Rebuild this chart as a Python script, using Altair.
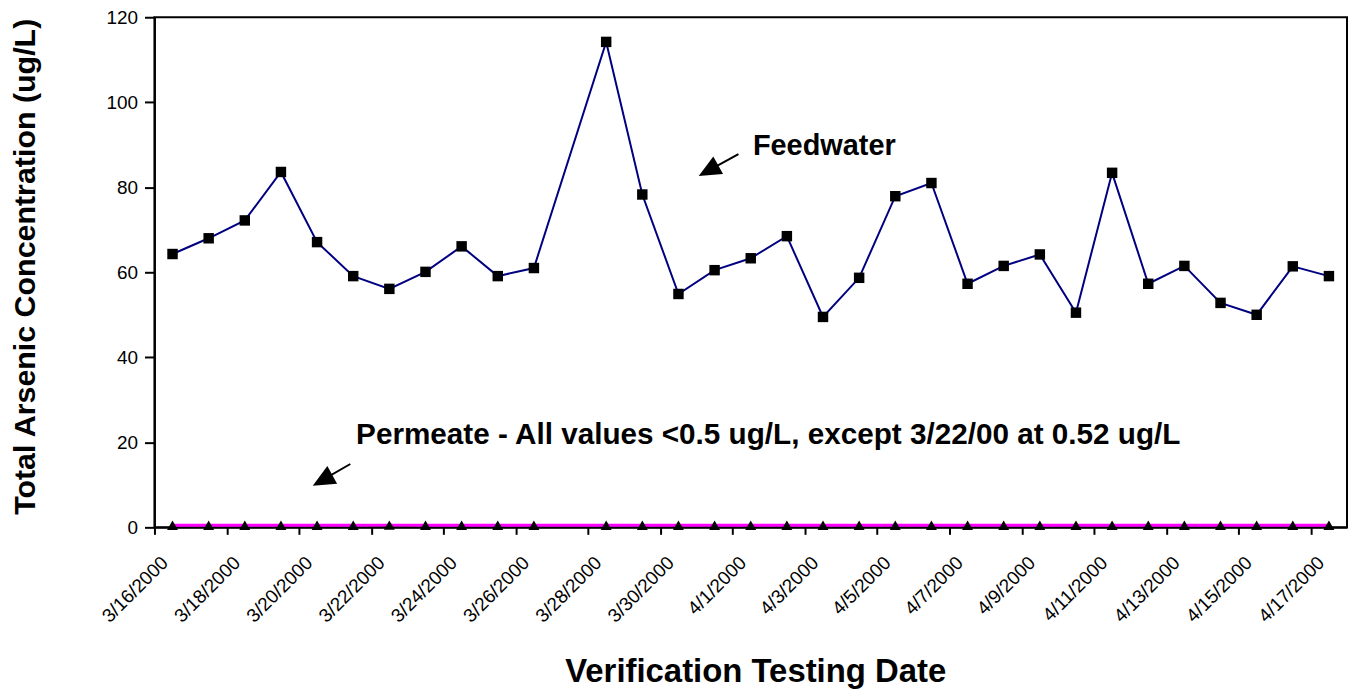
import altair as alt
import pandas as pd
from datetime import datetime, timedelta

# ---------------- data ----------------
dates = [
    "2000-03-16", "2000-03-17", "2000-03-18", "2000-03-19", "2000-03-20",
    "2000-03-21", "2000-03-22", "2000-03-23", "2000-03-24", "2000-03-25",
    "2000-03-26", "2000-03-28", "2000-03-29", "2000-03-30", "2000-03-31",
    "2000-04-01", "2000-04-02", "2000-04-03", "2000-04-04", "2000-04-05",
    "2000-04-06", "2000-04-07", "2000-04-08", "2000-04-09", "2000-04-10",
    "2000-04-11", "2000-04-12", "2000-04-13", "2000-04-14", "2000-04-15",
    "2000-04-16", "2000-04-17",
]
feedwater = [
    64.3, 68.0, 72.2, 83.6, 67.1, 59.1, 56.1, 60.1, 66.1, 59.1,
    61.0, 114.2, 78.3, 54.9, 60.5, 63.3, 68.5, 49.5, 58.7, 77.9,
    81.0, 57.3, 61.5, 64.2, 50.5, 83.4, 57.3, 61.5, 52.8, 50.0,
    61.4, 59.1,
]
permeate = [
    0.5, 0.5, 0.5, 0.5, 0.5, 0.5, 0.52, 0.5, 0.5, 0.5,
    0.5, 0.5, 0.5, 0.5, 0.5, 0.5, 0.5, 0.5, 0.5, 0.5,
    0.5, 0.5, 0.5, 0.5, 0.5, 0.5, 0.5, 0.5, 0.5, 0.5,
    0.5, 0.5,
]
y_ticks = [0, 20, 40, 60, 80, 100, 120]

FONT = "Liberation Sans"
START = datetime(2000, 3, 16)


def when(day):
    """Fractional day offset from 3/16/2000 -> local ISO timestamp."""
    return (START + timedelta(days=day)).strftime("%Y-%m-%dT%H:%M:%S")


# each daily sample sits in the middle of its day slot (Excel date axis)
df = pd.DataFrame({
    "date": [d + "T12:00:00" for d in dates],
    "Feedwater": feedwater,
    "Permeate": permeate,
})

x_ticks = [alt.DateTime(year=2000, month=3, date=16 + 2 * i) for i in range(8)] + \
          [alt.DateTime(year=2000, month=4, date=1 + 2 * i) for i in range(9)]

x_scale = alt.Scale(domain=[alt.DateTime(year=2000, month=3, date=16),
                            alt.DateTime(year=2000, month=4, date=18)])
y_scale = alt.Scale(domain=[0, 120], nice=False)

W, H = 1197, 512

x_axis = alt.Axis(
    values=x_ticks, format="%-m/%-d/%Y", labelAngle=315, labelAlign="right",
    labelBaseline="middle", labelOffset=10, labelPadding=25, tickSize=7,
    labelFontSize=19, labelFont=FONT, labelColor="black", grid=False,
    domainColor="black", domainWidth=2, tickColor="black", tickWidth=2,
    title="Verification Testing Date", titleFont=FONT, titleFontSize=33,
    titleFontWeight="bold", titleColor="black", titleBaseline="alphabetic",
    titleX=603, titleY=155, labelOverlap=False, labelBound=False,
)
y_axis = alt.Axis(
    values=y_ticks, tickSize=10, labelPadding=7, labelFontSize=19,
    labelFont=FONT, labelColor="black", grid=False, domainColor="black",
    domainWidth=2, tickColor="black", tickWidth=2,
    title="Total Arsenic Concentration (ug/L)", titleFont=FONT,
    titleFontSize=30.5, titleFontWeight="bold", titleColor="black",
    titleBaseline="alphabetic", titleX=-120, titleY=250, titleAngle=270,
)

base = alt.Chart(df)
X = alt.X("date:T", scale=x_scale, axis=x_axis)

feed_line = base.mark_line(color="#000080", strokeWidth=2).encode(
    x=X, y=alt.Y("Feedwater:Q", scale=y_scale, axis=y_axis))
feed_pts = base.mark_square(color="black", size=110, opacity=1).encode(
    x="date:T", y="Feedwater:Q")
perm_line = base.mark_line(color="#FF00FF", strokeWidth=3).encode(
    x="date:T", y="Permeate:Q")
perm_pts = base.mark_point(shape="triangle-up", filled=True, color="black",
                           size=120, opacity=1).encode(x="date:T", y="Permeate:Q")

# ---------------- annotations ----------------
labels = pd.DataFrame({
    "date": [when(16.56), when(5.58)],
    "v": [87.6, 19.6],
    "text": ["Feedwater",
             "Permeate - All values <0.5 ug/L, except 3/22/00 at 0.52 ug/L"],
    "size": [29, 29.8],
})
text_layer = alt.Chart(labels).mark_text(
    align="left", baseline="alphabetic", font=FONT, fontWeight="bold",
    color="black").encode(
    x="date:T", y="v:Q", text="text:N", size=alt.Size("size:Q", scale=None))

tails = [(16.16, 87.8), (5.42, 14.9)]
tips = [(15.06, 82.65), (4.38, 9.8)]
arrow_df = pd.DataFrame({
    "x1": [when(t[0]) for t in tails],
    "y1": [t[1] for t in tails],
    "x2": [when(p[0] + 0.3 * (t[0] - p[0])) for t, p in zip(tails, tips)],
    "y2": [p[1] + 0.3 * (t[1] - p[1]) for t, p in zip(tails, tips)],
    "tx": [when(p[0]) for p in tips],
    "ty": [p[1] for p in tips],
})
arrow_lines = alt.Chart(arrow_df).mark_rule(color="black", strokeWidth=2).encode(
    x="x1:T", y="y1:Q", x2="x2:T", y2="y2:Q")
arrow_heads = alt.Chart(arrow_df).mark_point(
    shape="M0,0L0.9,2L-0.9,2Z", filled=True, color="black", opacity=1,
    size=500, angle=241).encode(x="tx:T", y="ty:Q")

chart = alt.layer(
    feed_line, perm_line, feed_pts, perm_pts, text_layer, arrow_lines, arrow_heads
).properties(
    width=W, height=H,
    autosize=alt.AutoSizeParams(type="none"),
    padding={"left": 147, "top": 8, "right": 1, "bottom": 164},
    background="white",
).configure_view(stroke="black", strokeWidth=2)

chart.save("out.html", embed_options={"renderer": "svg", "actions": False})
